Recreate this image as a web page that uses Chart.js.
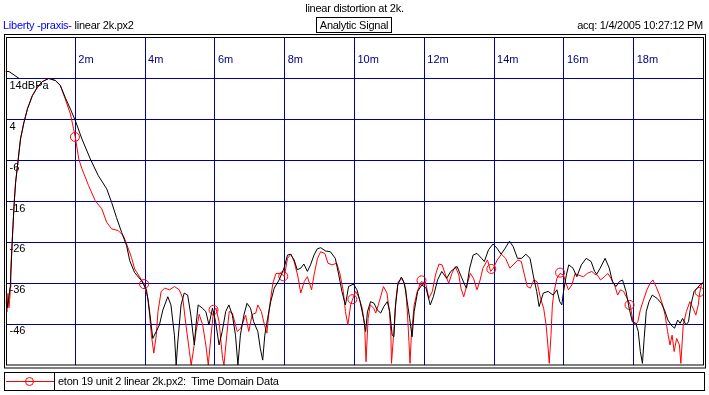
<!DOCTYPE html>
<html lang="en">
<head>
  <meta charset="UTF-8">
  <title>linear distortion at 2k.</title>
  <script src="https://cdn.jsdelivr.net/npm/chart.js"></script>
  <style>
    body {
      margin: 0;
      width: 709px;
      height: 395px;
      position: relative;
      background: #fff;
      font-family: Arial, "Liberation Sans", sans-serif;
      font-size: 11px;
      color: #000;
      overflow: hidden;
    }
    #chart {
      position: absolute;
      left: 0;
      top: 0;
    }
    .txt {
      position: absolute;
      line-height: 13px;
      white-space: nowrap;
      letter-spacing: -0.25px;
    }
    #title { top: 2px; left: 0; width: 709px; text-align: center; }
    #src { top: 19px; left: 3px; }
    #src span { color: #0000ff; }
    #mode {
      top: 17px; left: 316px; width: 74px; height: 14px;
      border: 1px solid #000; text-align: center; line-height: 14px;
    }
    #acq { top: 19px; right: 6px; }
    #legend {
      position: absolute;
      left: 4px; top: 372px; width: 699px; height: 17px;
      border: 1px solid #000;
    }
    #legend .line {
      position: absolute; left: 1px; top: 8px; width: 48px; height: 1px; background: #f00;
    }
    #legend .dot {
      position: absolute; left: 20px; top: 4px; width: 7px; height: 7px;
      border: 1px solid #f00; border-radius: 50%;
    }
    #legend .sep {
      position: absolute; left: 49px; top: 0; width: 1px; height: 17px; background: #000;
    }
    #legend .lbl { position: absolute; left: 53px; top: 2px; line-height: 13px; letter-spacing: -0.25px; }
  </style>
</head>
<body>
  <canvas id="chart" width="709" height="395"></canvas>
  <div class="txt" id="title">linear distortion at 2k.</div>
  <div class="txt" id="src"><span>Liberty -praxis-</span> linear 2k.px2</div>
  <div class="txt" id="mode">Analytic Signal</div>
  <div class="txt" id="acq">acq: 1/4/2005 10:27:12 PM</div>
  <div id="legend">
    <div class="line"></div><div class="dot"></div><div class="sep"></div>
    <div class="lbl">eton 19 unit 2 linear 2k.px2:&nbsp; Time Domain Data</div>
  </div>
  <script>
    // axis ticks
    const xTickValues = [2, 4, 6, 8, 10, 12, 14, 16, 18];
    const xTickLabels = ["2m", "4m", "6m", "8m", "10m", "12m", "14m", "16m", "18m"];
    const yTickValues = [-46, -36, -26, -16, -6, 4, 14];
    const yTickLabels = ["-46", "-36", "-26", "-16", "-6", "4", "14dBPa"];

    // black trace (ms, dB)
    const refTimes = [0.02, 0.05, 0.09, 0.13, 0.15, 0.2, 0.25, 0.29, 0.36, 0.43, 0.53, 0.63, 0.77, 0.91, 1.05, 1.24, 1.43, 1.57,
      1.71, 1.86, 2.0, 2.19, 2.43, 2.66, 2.9, 3.04, 3.18, 3.33, 3.47, 3.56, 3.7, 3.9, 4.04, 4.13, 4.22, 4.32, 4.41, 4.51, 4.65,
      4.74, 4.84, 4.89, 4.93, 5.03, 5.12, 5.22, 5.31, 5.41, 5.45, 5.52, 5.64, 5.74, 5.83, 5.93, 6.02, 6.12, 6.21, 6.31, 6.4,
      6.5, 6.59, 6.66, 6.73, 6.83, 6.92, 7.02, 7.11, 7.23, 7.3, 7.37, 7.43, 7.51, 7.6, 7.7, 7.84, 7.98, 8.08, 8.17, 8.27, 8.36,
      8.46, 8.55, 8.65, 8.74, 8.84, 8.93, 9.03, 9.17, 9.31, 9.45, 9.55, 9.64, 9.74, 9.83, 9.97, 10.07, 10.16, 10.26, 10.32,
      10.37, 10.46, 10.56, 10.65, 10.75, 10.84, 10.94, 11.01, 11.08, 11.13, 11.17, 11.24, 11.34, 11.43, 11.51, 11.58, 11.65,
      11.71, 11.81, 11.93, 12.05, 12.17, 12.26, 12.38, 12.5, 12.64, 12.76, 12.94, 13.04, 13.16, 13.21, 13.3, 13.4, 13.51,
      13.64, 13.72, 13.84, 13.97, 14.08, 14.2, 14.32, 14.44, 14.55, 14.67, 14.79, 14.91, 15.03, 15.12, 15.22, 15.29, 15.41,
      15.55, 15.69, 15.8, 15.88, 15.94, 15.99, 16.07, 16.14, 16.26, 16.37, 16.5, 16.64, 16.78, 16.88, 16.94, 17.04, 17.18,
      17.3, 17.39, 17.49, 17.59, 17.68, 17.78, 17.87, 17.96, 18.06, 18.13, 18.19, 18.25, 18.3, 18.36, 18.44, 18.53, 18.67,
      18.79, 18.88, 18.98, 19.07, 19.17, 19.26, 19.33, 19.4, 19.5, 19.57, 19.64, 19.73, 19.83, 19.92, 20.0];
    const refLevels = [-38, -42, -40, -37, -34.2, -24.4, -16.2, -11.3, -6, -0.7, 3.4, 6.7, 9.9, 11.9, 13.3, 14.1, 13.6, 12.4,
      9.5, 6.6, 3.8, -0.7, -5.6, -9.7, -12.9, -16.2, -19.9, -23.6, -26.8, -30.5, -33.4, -35.4, -37.6, -43, -49.5, -47.8, -46.2, -42.5, -39.3,
      -41.3, -48.7, -56, -51.1, -41.3, -38.4, -38.9, -43.8, -51.1, -47, -41.3, -42.1, -42.9, -46.2, -42.1, -45.4, -51.1, -47.8, -42.9, -41.3,
      -43.8, -48.7, -56, -48.7, -43.8, -40.9, -42.1, -45.4, -47.8, -51.9, -54.8, -48.7, -44.6, -40.5, -37.2, -35.2, -32.3, -29.1, -28.9, -30.3, -32.7,
      -32.3, -31.3, -33.1, -31.5, -29.1, -27.6, -27.3, -28.1, -28.3, -29.9, -34, -38, -41.3, -36.8, -36.2, -37.6, -40.5, -44.6, -47.8,
      -43, -40.5, -40.9, -42.5, -43.3, -41.7, -40.5, -42.9, -48.7, -49.1, -42.1, -36.4, -34.5, -36, -40.5, -44.6, -49.1,
      -42.9, -38, -36.4, -37.2, -41.3, -39.3, -35.2, -33.1, -34.8, -33.1, -31.9, -34, -36.4, -37.2, -32.3, -29.1, -28.7,
      -29.9, -30.7, -27.8, -26.4, -27.4, -28.9, -27.4, -25.7, -27.1, -29.9, -29.9, -28.9, -29.9, -34, -38, -41.7, -38.4,
      -38, -38.9, -37.6, -40.5, -41.3, -38, -34, -31.5, -32.3, -34.4, -31.5, -29.9, -30.7, -33.1, -33.8, -32.3, -29.9,
      -32.3, -35.6, -36.8, -35.6, -35.2, -38, -42.1, -45.4, -45.8, -47.8, -52.7, -55.6, -49.5, -42.9, -40.5, -38.9, -39.7,
      -40.9, -42.5, -45, -46.2, -47, -45, -45.8, -44.6, -46.2, -45.4, -41.3, -38, -37.1, -36.2, -36];

    // short black segment at the top left corner
    const stubTimes = [0.0, 0.1, 0.39];
    const stubLevels = [15.8, 15.8, 14.1];

    // red trace (ms, dB)
    const measTimes = [0.01, 0.04, 0.07, 0.1, 0.13, 0.16, 0.2, 0.25, 0.29, 0.36, 0.43, 0.53, 0.63, 0.77, 0.91, 1.05, 1.24, 1.43, 1.57,
      1.71, 1.86, 1.95, 2.0, 2.1, 2.19, 2.38, 2.57, 2.76, 2.9, 3.04, 3.23, 3.38, 3.47, 3.61, 3.7, 3.97, 4.09, 4.18, 4.25, 4.32,
      4.37, 4.46, 4.56, 4.7, 4.84, 4.98, 5.08, 5.17, 5.27, 5.32, 5.38, 5.46, 5.55, 5.65, 5.74, 5.81, 5.89, 5.96, 6.03, 6.12,
      6.22, 6.26, 6.34, 6.41, 6.5, 6.64, 6.74, 6.88, 6.97, 7.07, 7.17, 7.23, 7.33, 7.42, 7.49, 7.56, 7.66, 7.75, 7.9, 7.99,
      8.08, 8.18, 8.27, 8.37, 8.46, 8.56, 8.65, 8.77, 8.84, 8.94, 9.03, 9.15, 9.24, 9.36, 9.49, 9.58, 9.68, 9.74, 9.81, 9.89,
      9.95, 10.03, 10.12, 10.22, 10.29, 10.33, 10.39, 10.45, 10.55, 10.61, 10.71, 10.83, 10.93, 11.0, 11.04, 11.06, 11.12,
      11.18, 11.25, 11.37, 11.47, 11.52, 11.56, 11.59, 11.63, 11.71, 11.8, 11.91, 12.04, 12.13, 12.23, 12.32, 12.42, 12.51,
      12.61, 12.7, 12.79, 12.89, 12.99, 13.05, 13.13, 13.22, 13.32, 13.41, 13.51, 13.6, 13.68, 13.81, 13.9, 13.98, 14.09,
      14.21, 14.33, 14.45, 14.57, 14.68, 14.78, 14.87, 14.95, 15.04, 15.14, 15.23, 15.33, 15.42, 15.49, 15.54, 15.58, 15.63,
      15.67, 15.72, 15.8, 15.89, 15.99, 16.06, 16.13, 16.23, 16.32, 16.41, 16.56, 16.67, 16.8, 16.89, 16.96, 17.05, 17.16,
      17.26, 17.35, 17.45, 17.54, 17.62, 17.71, 17.81, 17.9, 17.98, 18.05, 18.12, 18.19, 18.28, 18.38, 18.47, 18.55, 18.64,
      18.74, 18.83, 18.9, 18.97, 19.04, 19.1, 19.16, 19.23, 19.31, 19.35, 19.42, 19.51, 19.61, 19.7, 19.78, 19.85, 19.89, 19.94, 20.0];
    const measLevels = [-40, -43, -38.5, -42, -39, -31, -24.4, -16.2, -11.3, -6, -0.7, 3.4, 6.7, 9.9, 11.9, 13.3, 14.1, 13.6, 12.4,
      9.1, 5.4, 1.8, -0.3, -5.6, -8, -12.1, -15.8, -17.8, -21.1, -22.7, -23.1, -24.4, -26.4, -29.7, -32.5, -36.2, -40, -48.7, -53.1, -48.7,
      -42.9, -38, -37.2, -37.6, -36.8, -37.6, -39.7, -46.2, -52.7, -56, -52.7, -47.8, -43.6, -46.2, -51.1, -56, -48.7, -42.9, -42.1, -45.4,
      -54.4, -56, -48.7, -42.9, -43.3, -47.8, -47, -43.8, -47.8, -43.6, -43.3, -41.3, -42.9, -46.2, -48.2, -42.1, -36, -33.6, -33.6, -34.4,
      -29.9, -28.9, -30.7, -34, -38.4, -35.6, -34.4, -37.6, -34, -29.9, -28.3, -28.7, -31.1, -31.5, -31.1, -33.6, -38, -42.9, -46.2, -41.3,
      -39.8, -38, -39.3, -42.1, -46.2, -55.2, -44.6, -41.3, -42.1, -43.3, -40.5, -36.8, -38.4, -42.9, -47.8, -55.6, -48.7,
      -40.5, -35.6, -34.8, -37.6, -43.8, -50.3, -55.6, -48.7, -41.3, -38, -35.6, -36, -39.7, -38, -34, -31.3, -31.5,
      -34, -36, -33.6, -31.9, -34, -37.2, -39.3, -36.4, -33.6, -34.8, -37.6, -35.2, -32.3, -30.3, -33.1, -32.3, -30.3,
      -28.9, -29.9, -32.3, -31.3, -30.3, -30.7, -34, -36.8, -37.2, -35.2, -35.6, -39.7, -42.1, -46.2, -51.1, -55.6, -48.7,
      -41.3, -38, -34.8, -33.6, -34, -36, -37.6, -36.4, -33.6, -34, -34.4, -33.6, -33.1, -33.8, -34, -35.2, -34.4,
      -33.6, -34.8, -36.4, -38.9, -37.6, -38, -39.7, -41.3, -45.4, -46.2, -45.4, -42.5, -40.1, -37.6, -36, -35.2, -36.8,
      -38.9, -41.3, -43.8, -47.8, -51.1, -48.7, -52.7, -49.5, -51.1, -55.6, -46.2, -42.9, -40.5, -42.1, -43.8, -41.3, -38.4, -36.4, -35.5];

    // red circle markers
    const markerTimes = [1.99, 3.97, 5.96, 7.96, 9.94, 11.92, 13.92, 15.89, 17.88, 19.89];
    const markerLevels = [-0.2, -36.2, -42.5, -34.3, -39.9, -35.3, -32.5, -33.4, -41.3, -38.1];

    const toPoints = (xs, ys) => xs.map((x, i) => ({ x: x, y: ys[i] }));

    const gridBlue = "#00009c";
    const tickFont = { family: "Arial, 'Liberation Sans', sans-serif", size: 11 };

    const framePlugin = {
      id: "frame",
      afterDraw(chart) {
        const c = chart.ctx;
        const a = chart.chartArea;
        c.save();
        c.strokeStyle = "#000";
        c.lineWidth = 1;
        c.strokeRect(Math.round(a.left) + 0.5, Math.round(a.top) - 0.5, Math.round(a.right - a.left) - 1, Math.round(a.bottom - a.top) + 0.5);
        c.strokeRect(Math.round(a.left) - 1.5, Math.round(a.top) - 3.5, Math.round(a.right - a.left) + 3, Math.round(a.bottom - a.top) + 6.5);
        c.restore();
      }
    };

    new Chart(document.getElementById("chart").getContext("2d"), {
      type: "line",
      data: {
        datasets: [
          {
            label: "stub",
            data: toPoints(stubTimes, stubLevels),
            borderColor: "#000",
            borderWidth: 1,
            pointRadius: 0
          },
          {
            label: "reference",
            data: toPoints(refTimes, refLevels),
            borderColor: "#000",
            borderWidth: 1,
            pointRadius: 0
          },
          {
            label: "eton 19 unit 2 linear 2k.px2:  Time Domain Data",
            data: toPoints(measTimes, measLevels),
            borderColor: "#ff0000",
            borderWidth: 1,
            pointRadius: 0
          },
          {
            label: "markers",
            data: toPoints(markerTimes, markerLevels),
            showLine: false,
            pointRadius: 4.5,
            pointStyle: "circle",
            pointBorderColor: "#ff0000",
            pointBackgroundColor: "rgba(0,0,0,0)",
            pointBorderWidth: 1
          }
        ]
      },
      options: {
        responsive: false,
        animation: false,
        layout: { padding: { left: 3, top: 38, right: 3, bottom: 30 } },
        elements: { line: { tension: 0 } },
        plugins: {
          legend: { display: false },
          tooltip: { enabled: false }
        },
        scales: {
          x: {
            type: "linear",
            position: "top",
            min: 0,
            max: 20,
            afterFit: (s) => { s.height = 0; },
            afterBuildTicks: (s) => { s.ticks = xTickValues.map(v => ({ value: v })); },
            grid: { color: gridBlue, lineWidth: 1, drawTicks: false },
            border: { display: false },
            ticks: {
              mirror: true,
              align: "start",
              padding: 15,
              labelOffset: 3,
              autoSkip: false,
              maxRotation: 0,
              color: "#000080",
              font: tickFont,
              callback: (v, i) => xTickLabels[i]
            }
          },
          y: {
            type: "linear",
            min: -56,
            max: 24,
            afterFit: (s) => { s.width = 0; },
            afterBuildTicks: (s) => { s.ticks = yTickValues.map(v => ({ value: v })); },
            grid: { color: gridBlue, lineWidth: 1, drawTicks: false },
            border: { display: false },
            ticks: {
              mirror: true,
              padding: 4,
              labelOffset: 7,
              color: "#000",
              font: tickFont,
              callback: (v, i) => yTickLabels[i]
            }
          }
        }
      },
      plugins: [framePlugin]
    });
  </script>
</body>
</html>
